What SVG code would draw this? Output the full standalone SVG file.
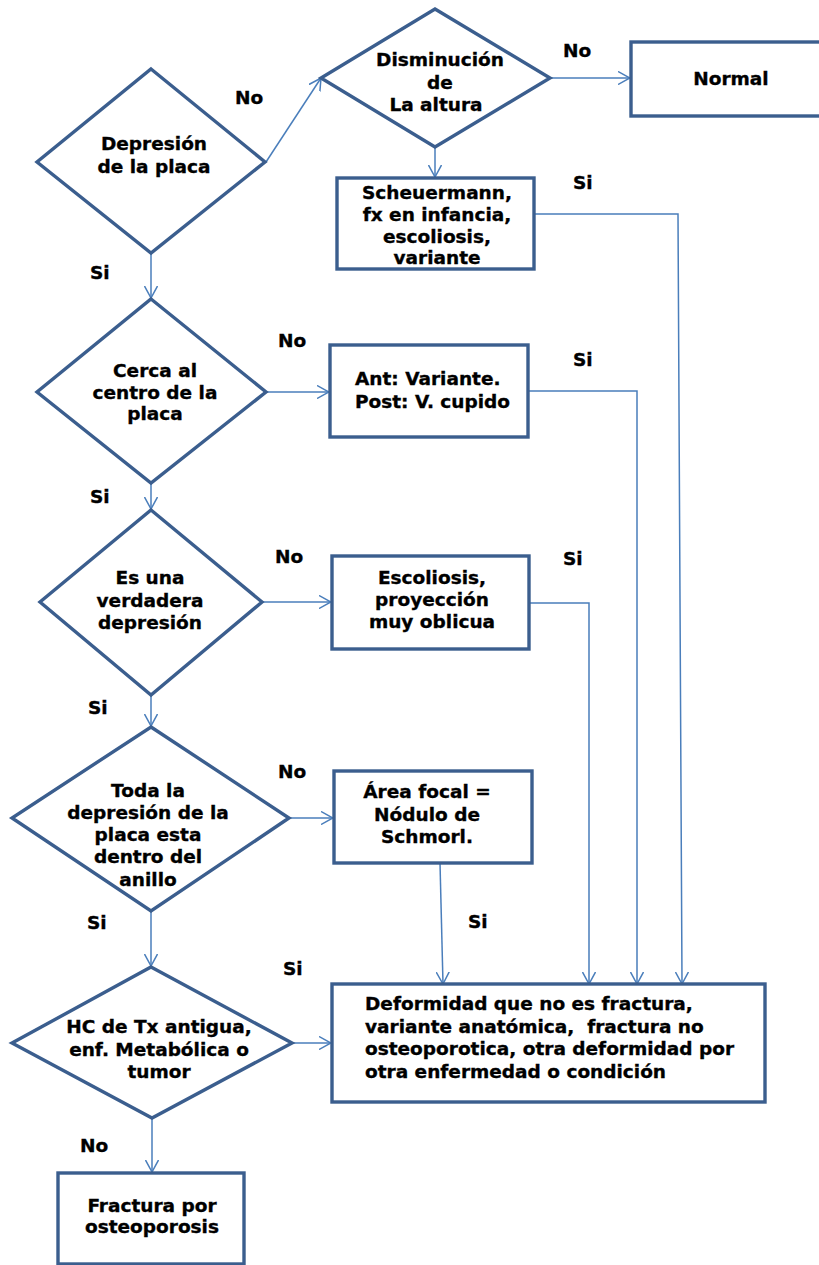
<svg xmlns="http://www.w3.org/2000/svg" width="819" height="1265" viewBox="0 0 819 1265">
<style>
.shape{fill:#fff;stroke:#3B5E8E;stroke-width:3.4;stroke-linejoin:miter}
.conn{fill:none;stroke:#4A7EBB;stroke-width:1.5}
text{font-family:"DejaVu Sans",Verdana,sans-serif;font-weight:bold;font-size:18.5px;fill:#000;stroke:#000;stroke-width:0.35}
.c{text-anchor:middle}
</style>
<defs>
<marker id="arr" viewBox="0 0 12 14" refX="12" refY="7" markerWidth="12" markerHeight="14" markerUnits="userSpaceOnUse" orient="auto">
<path d="M0,0.5 L12,7 L0,13.5" fill="none" stroke="#4A7EBB" stroke-width="1.5"/>
</marker>
</defs>
<rect width="819" height="1265" fill="#fff"/>
<g id="connectors">
<line class="conn" x1="266" y1="162" x2="321" y2="78" marker-end="url(#arr)"/>
<line class="conn" x1="550" y1="78" x2="630" y2="78" marker-end="url(#arr)"/>
<line class="conn" x1="435" y1="147" x2="435" y2="177" marker-end="url(#arr)"/>
<polyline class="conn" points="534,214 678,214 682,984" marker-end="url(#arr)"/>
<line class="conn" x1="151" y1="253" x2="151" y2="298" marker-end="url(#arr)"/>
<line class="conn" x1="266" y1="392" x2="329" y2="392" marker-end="url(#arr)"/>
<polyline class="conn" points="528,391 637,391 637,984" marker-end="url(#arr)"/>
<line class="conn" x1="151" y1="483" x2="151" y2="509" marker-end="url(#arr)"/>
<line class="conn" x1="262" y1="602" x2="331" y2="602" marker-end="url(#arr)"/>
<polyline class="conn" points="529,603 589,603 589,984" marker-end="url(#arr)"/>
<line class="conn" x1="151" y1="695" x2="151" y2="726" marker-end="url(#arr)"/>
<line class="conn" x1="289" y1="818" x2="333" y2="818" marker-end="url(#arr)"/>
<line class="conn" x1="440" y1="863" x2="443" y2="984" marker-end="url(#arr)"/>
<line class="conn" x1="151" y1="911" x2="151" y2="966" marker-end="url(#arr)"/>
<line class="conn" x1="292" y1="1043" x2="331" y2="1043" marker-end="url(#arr)"/>
<line class="conn" x1="152" y1="1118" x2="152" y2="1172" marker-end="url(#arr)"/>
</g>
<g id="labels">
<text x="235" y="104">No</text>
<text x="563" y="57">No</text>
<text x="573" y="189">Si</text>
<text x="90" y="279">Si</text>
<text x="278" y="347">No</text>
<text x="573" y="366">Si</text>
<text x="90" y="503">Si</text>
<text x="275" y="563">No</text>
<text x="563" y="565">Si</text>
<text x="88" y="714">Si</text>
<text x="278" y="778">No</text>
<text x="468" y="928">Si</text>
<text x="87" y="929">Si</text>
<text x="283" y="975">Si</text>
<text x="80" y="1152">No</text>
</g>
<g id="n1">
<polygon class="shape" points="151,69 265,162 151,253 37,162"/>
<text class="c" x="154" y="150">Depresión</text>
<text class="c" x="154" y="173">de la placa</text>
</g>
<g id="n2">
<polygon class="shape" points="435,9 550,78 435,147 321,78"/>
<text class="c" x="440" y="66">Disminución</text>
<text class="c" x="440" y="89">de</text>
<text class="c" x="436" y="111">La altura</text>
</g>
<g id="n3">
<rect class="shape" x="631" y="42" width="200" height="74"/>
<text class="c" x="731" y="85">Normal</text>
</g>
<g id="n4">
<rect class="shape" x="337" y="178" width="197" height="91"/>
<text class="c" x="437" y="199">Scheuermann,</text>
<text class="c" x="437" y="221">fx en infancia,</text>
<text class="c" x="437" y="243">escoliosis,</text>
<text class="c" x="437" y="264">variante</text>
</g>
<g id="n5">
<polygon class="shape" points="151,299 266,392 151,483 37,392"/>
<text class="c" x="155" y="377">Cerca al</text>
<text class="c" x="155" y="399">centro de la</text>
<text class="c" x="155" y="420">placa</text>
</g>
<g id="n6">
<rect class="shape" x="330" y="345" width="198" height="92"/>
<text x="355" y="385">Ant: Variante.</text>
<text x="355" y="408">Post: V. cupido</text>
</g>
<g id="n7">
<polygon class="shape" points="151,510 262,602 151,695 40,602"/>
<text class="c" x="150" y="584">Es una</text>
<text class="c" x="150" y="607">verdadera</text>
<text class="c" x="150" y="629">depresión</text>
</g>
<g id="n8">
<rect class="shape" x="332" y="556" width="197" height="93"/>
<text class="c" x="432" y="584">Escoliosis,</text>
<text class="c" x="432" y="606">proyección</text>
<text class="c" x="432" y="628">muy oblicua</text>
</g>
<g id="n9">
<polygon class="shape" points="151,727 289,818 151,911 12,818"/>
<text class="c" x="148" y="797">Toda la</text>
<text class="c" x="148" y="819">depresión de la</text>
<text class="c" x="148" y="841">placa esta</text>
<text class="c" x="148" y="863">dentro del</text>
<text class="c" x="148" y="886">anillo</text>
</g>
<g id="n10">
<rect class="shape" x="334" y="771" width="198" height="92"/>
<text class="c" x="427" y="798">Área focal =</text>
<text class="c" x="427" y="821">Nódulo de</text>
<text class="c" x="427" y="843">Schmorl.</text>
</g>
<g id="n11">
<polygon class="shape" points="151,967 292,1043 152,1118 12,1043"/>
<text class="c" x="159" y="1033">HC de Tx antigua,</text>
<text class="c" x="159" y="1056">enf. Metabólica o</text>
<text class="c" x="159" y="1078">tumor</text>
</g>
<g id="n12">
<rect class="shape" x="332" y="984" width="433" height="118"/>
<text x="365" y="1010">Deformidad que no es fractura,</text>
<text x="365" y="1033" xml:space="preserve">variante anatómica,  fractura no</text>
<text x="365" y="1055">osteoporotica, otra deformidad por</text>
<text x="365" y="1078">otra enfermedad o condición</text>
</g>
<g id="n13">
<rect class="shape" x="58" y="1173" width="186" height="91"/>
<text class="c" x="152" y="1212">Fractura por</text>
<text class="c" x="152" y="1233">osteoporosis</text>
</g>
</svg>
